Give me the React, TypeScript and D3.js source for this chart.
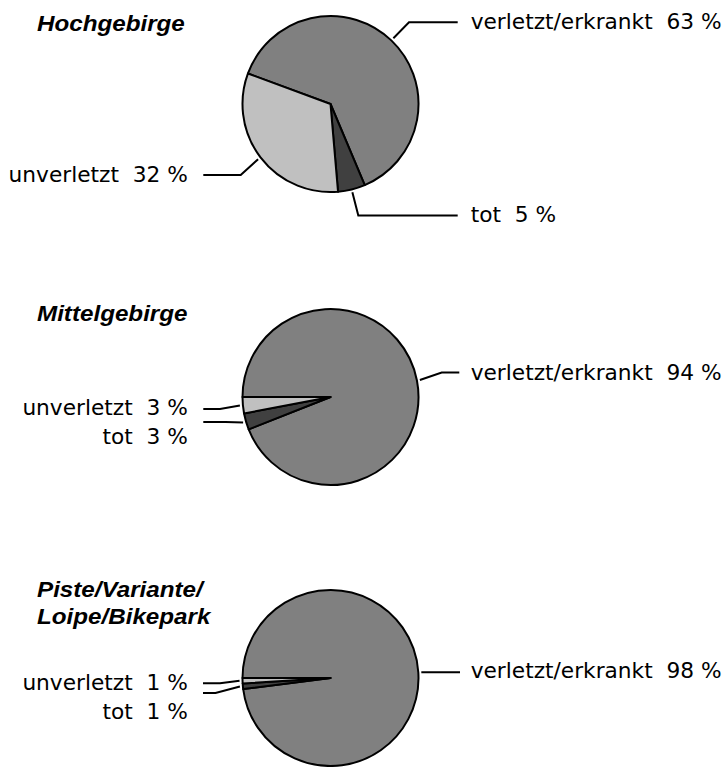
import React from "react";
import * as d3 from "d3";

const categories = ["verletzt/erkrankt", "tot", "unverletzt"];
const regionTitles = [["Hochgebirge"], ["Mittelgebirge"], ["Piste/Variante/", "Loipe/Bikepark"]];
const hochgebirge = [63, 5, 32];
const mittelgebirge = [94, 3, 3];
const piste = [98, 1, 1];
const seriesList = [hochgebirge, mittelgebirge, piste];
const colors = ["#808080", "#404040", "#c0c0c0"];

// layout (positions relative to each pie center)
const W = 727;
const H = 767;
const R = 88;
const centerX = 330.5;
const centersY = [104, 397, 678];
const startDeg = [290.3, 270, 270];
const titleBaselines = [31, 321, 597];
// per pie, per category: side (1 right / -1 left), label baseline dy, line dy, elbow dx, line end dx
const labelLayout = [
  [
    { side: 1, ty: -75, ly: -81.7, ex: 78.5, lx: 127.2 },
    { side: 1, ty: 118, ly: 111.5, ex: 27.8, lx: 127.2 },
    { side: -1, ty: 78, ly: 71, ex: -89.8, lx: -127.2 },
  ],
  [
    { side: 1, ty: -17, ly: -24.5, ex: 111.2, lx: 128.8 },
    { side: -1, ty: 47, ly: 25, ex: -105, lx: -127.2 },
    { side: -1, ty: 18, ly: 12, ex: -110.5, lx: -127.2 },
  ],
  [
    { side: 1, ty: 0, ly: -5.7, ex: 109.5, lx: 129.5 },
    { side: -1, ty: 41, ly: 15, ex: -115, lx: -127.5 },
    { side: -1, ty: 12, ly: 5.3, ex: -110.5, lx: -127.5 },
  ],
];
const textOffset = 140.2;

export default function App() {
  const arc = d3.arc<any>().innerRadius(0).outerRadius(R);
  const labelArc = d3.arc<any>().innerRadius(R + 3).outerRadius(R + 3);

  return (
    <svg
      width={W}
      height={H}
      style={{ position: "absolute", left: 0, top: 0, background: "#fff" }}
    >
      {seriesList.map((values, pi) => {
        const s = (startDeg[pi] * Math.PI) / 180;
        const pie = d3.pie<number>().sort(null).value((d) => d).startAngle(s).endAngle(s + 2 * Math.PI);
        const arcs = pie(values);
        const cy = centersY[pi];
        return (
          <g key={pi}>
            {regionTitles[pi].map((t, li) => (
              <text
                key={li}
                transform={`translate(37,${titleBaselines[pi] + li * 27}) scale(1.1,1)`}
                fontFamily="'Liberation Sans', Arial, sans-serif"
                fontWeight="bold"
                fontStyle="italic"
                fontSize={22}
                fill="#000"
              >
                {t}
              </text>
            ))}
            <g transform={`translate(${centerX},${cy})`}>
              {arcs.map((a, i) => (
                <path key={i} d={arc(a) || ""} fill={colors[i]} stroke="#000" strokeWidth={2} strokeLinejoin="round" />
              ))}
              {arcs.map((a, i) => {
                const L = labelLayout[pi][i];
                const [sx, sy] = labelArc.centroid(a);
                const pts: [number, number][] = [
                  [sx, sy],
                  [L.ex, L.ly],
                  [L.lx, L.ly],
                ];
                const line = d3.line();
                const pct = Math.round((values[i] / d3.sum(values)) * 100);
                return (
                  <g key={"l" + i}>
                    <path d={line(pts) || ""} fill="none" stroke="#000" strokeWidth={2} />
                    <text
                      x={L.side > 0 ? textOffset : -textOffset - 2.5}
                      y={L.ty}
                      textAnchor={L.side > 0 ? "start" : "end"}
                      fontFamily="'DejaVu Sans', Verdana, sans-serif"
                      fontSize={21.7}
                      fill="#000"
                      style={{ whiteSpace: "pre" }}
                    >
                      {`${categories[i]}  ${pct} %`}
                    </text>
                  </g>
                );
              })}
            </g>
          </g>
        );
      })}
    </svg>
  );
}
